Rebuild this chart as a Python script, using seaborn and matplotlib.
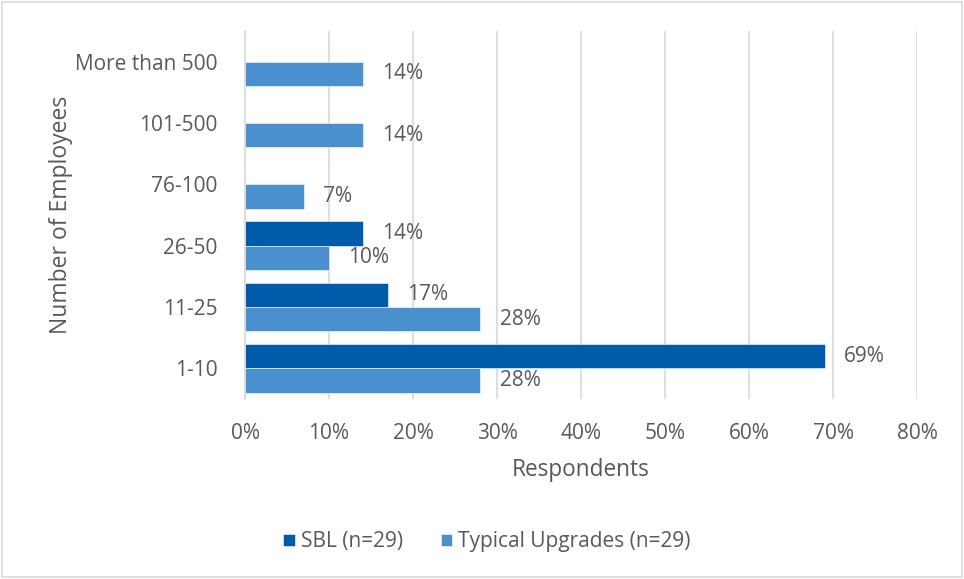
import matplotlib
matplotlib.use("Agg")
import matplotlib.pyplot as plt
import pandas as pd
import seaborn as sns
from matplotlib.patches import Rectangle

categories = ["More than 500", "101-500", "76-100", "26-50", "11-25", "1-10"]
sbl = [0, 0, 0, 14, 17, 69]
typical = [14, 14, 7, 10, 28, 28]
series_names = ["SBL (n=29)", "Typical Upgrades (n=29)"]
x_ticks = [0, 10, 20, 30, 40, 50, 60, 70, 80]

text_grey = "#595959"
colors = ["#005BAA", "#4A90CF"]

sns.set_theme(style="white")
plt.rcParams["font.family"] = ["Open Sans", "DejaVu Sans"]

df = pd.DataFrame({
    "category": categories * 2,
    "value": sbl + typical,
    "series": [series_names[0]] * len(categories) + [series_names[1]] * len(categories),
})

fig = plt.figure(figsize=(9.64, 5.79), dpi=100)
ax = fig.add_axes([245 / 964, 1 - 399 / 579, (917 - 245) / 964, (399 - 31) / 579])

sns.barplot(data=df, x="value", y="category", hue="series", order=categories,
            hue_order=series_names, palette=colors, orient="h", width=0.79,
            gap=0, saturation=1, edgecolor="white", linewidth=0.4, ax=ax)

for container in ax.containers:
    labels = [f"{v:.0f}%" if v > 0 else "" for v in container.datavalues]
    ax.bar_label(container, labels=labels, padding=14, fontsize=15, color=text_grey)

ax.set_xlim(0, 80)
ax.set_xticks(x_ticks)
ax.set_xticklabels([f"{t}%" for t in x_ticks])
ax.xaxis.grid(True, color="#d9d9d9", linewidth=1.2)
ax.set_axisbelow(True)
for s in ["top", "right", "bottom"]:
    ax.spines[s].set_visible(False)
ax.spines["left"].set_color("#d9d9d9")
ax.spines["left"].set_linewidth(1.2)
ax.tick_params(axis="both", length=0, labelsize=15, labelcolor=text_grey)
ax.tick_params(axis="x", pad=17)
ax.tick_params(axis="y", pad=20)

ax.set_xlabel("Respondents", fontsize=16.3, color=text_grey, labelpad=10)
ax.set_ylabel("Number of Employees", fontsize=16.5, color=text_grey, labelpad=1)

ax.legend(loc="center", bbox_to_anchor=(487 / 964, 1 - 542 / 579),
          bbox_transform=fig.transFigure, ncol=2, frameon=False, fontsize=15,
          labelcolor=text_grey, handlelength=0.55, handleheight=0.55,
          handletextpad=0.3, columnspacing=1.8)

fig.patches.append(Rectangle((2 / 964, 2 / 579), 960 / 964, 575 / 579,
                             transform=fig.transFigure, fill=False,
                             edgecolor="#d9d9d9", linewidth=1.2))

fig.savefig("out.png", dpi=100, facecolor="white")
